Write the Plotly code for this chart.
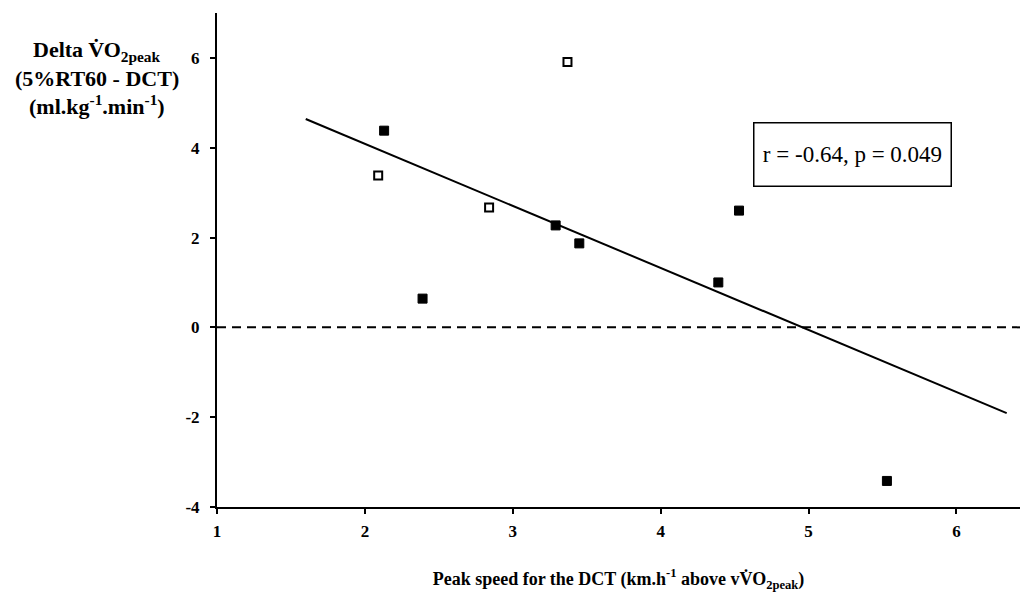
import plotly.graph_objects as go

# Data
open_x = [2.09, 2.84, 3.37]
open_y = [3.38, 2.67, 5.91]
filled_x = [2.13, 2.39, 3.29, 3.45, 4.39, 4.53, 5.53]
filled_y = [4.38, 0.64, 2.27, 1.87, 1.00, 2.60, -3.42]
fit_x = [1.60, 6.34]
fit_y = [4.64, -1.91]
zero_x = [1.0, 6.43]
zero_y = [0.0, 0.0]
x_ticks = [1, 2, 3, 4, 5, 6]
y_ticks = [-4, -2, 0, 2, 4, 6]
stat_text = "r = -0.64, p = 0.049"

FONT = "Liberation Serif"

fig = go.Figure()
fig.add_trace(go.Scatter(x=zero_x, y=zero_y, mode="lines",
                         line=dict(color="black", width=2, dash="9px,6px"),
                         hoverinfo="skip"))
fig.add_trace(go.Scatter(x=fit_x, y=fit_y, mode="lines",
                         line=dict(color="black", width=2)))
fig.add_trace(go.Scatter(x=open_x, y=open_y, mode="markers",
                         marker=dict(symbol="square", size=8, color="white",
                                     line=dict(color="black", width=2))))
fig.add_trace(go.Scatter(x=filled_x, y=filled_y, mode="markers",
                         marker=dict(symbol="square", size=9, color="black",
                                     line=dict(color="black", width=1))))

fig.add_annotation(x=5.30, y=3.84, xref="x", yref="y", text=stat_text,
                   showarrow=False, font=dict(family=FONT, size=23, color="black"),
                   bordercolor="black", borderwidth=1.5, borderpad=0,
                   width=196, height=62, bgcolor="white")

ytitle = ["Delta V̇O<sub>2peak</sub>", "(5%RT60 - DCT)",
          "(ml.kg<sup>-1</sup>.min<sup>-1</sup>)"]
ypos = [51, 78, 105]
for t, yp in zip(ytitle, ypos):
    fig.add_annotation(x=0, xref="paper", xanchor="center", xshift=-120,
                       y=1, yref="paper", yanchor="middle", yshift=13 - yp,
                       text="<b>" + t + "</b>", showarrow=False,
                       font=dict(family=FONT, size=22, color="black"))

fig.update_layout(
    width=1023, height=604,
    margin=dict(l=217, r=3, t=13, b=97),
    paper_bgcolor="white", plot_bgcolor="white",
    showlegend=False,
    font=dict(family=FONT, color="black"),
)
fig.update_xaxes(range=[1, 6.43], tickvals=x_ticks,
                 ticktext=["<b>%d</b>" % v for v in x_ticks],
                 showgrid=False, zeroline=False, showline=True,
                 linecolor="black", linewidth=2, ticks="outside", ticklen=5,
                 tickcolor="black", tickwidth=1.5, ticklabelstandoff=3,
                 tickfont=dict(family=FONT, size=17, color="black"),
                 title=dict(text="<b>Peak speed for the DCT (km.h<sup>-1</sup> above vV̇O<sub>2peak</sub>)</b>",
                            font=dict(family=FONT, size=18, color="black"),
                            standoff=32))
fig.update_yaxes(range=[-4, 7], tickvals=y_ticks,
                 ticktext=["<b>%d</b>" % v for v in y_ticks],
                 showgrid=False, zeroline=False, showline=True,
                 linecolor="black", linewidth=2, ticks="outside", ticklen=5,
                 tickcolor="black", tickwidth=1.5, ticklabelstandoff=7,
                 tickfont=dict(family=FONT, size=17, color="black"))

fig.write_html("out.html")
